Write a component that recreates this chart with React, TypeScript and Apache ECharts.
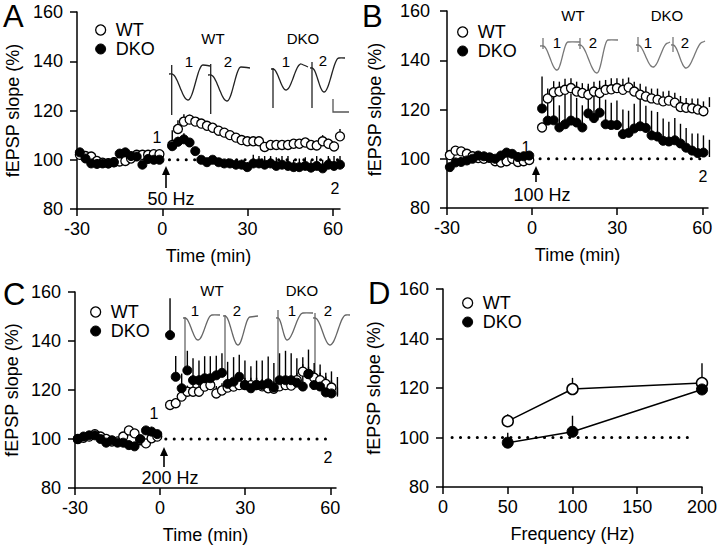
import React, { useEffect, useRef } from "react";
import * as echarts from "echarts";

const FONT = "'Liberation Sans', Arial, Helvetica, sans-serif";

// ---------- data ----------
const BASE_T = [-29, -27, -25, -23, -21, -19, -17, -15, -13, -11, -9, -7, -5, -3, -1];
const POST_T = [3.5, 5.5, 7.6, 9.6, 11.6, 13.7, 15.7, 17.7, 19.8, 21.8, 23.8, 25.9, 27.9, 29.9, 32.0, 34.0, 36.0, 38.1, 40.1, 42.1, 44.2, 46.2, 48.2, 50.3, 52.3, 54.3, 56.4, 58.4, 60.4, 62.5];
const TIME = [...BASE_T, ...POST_T];

// Panel A: 50 Hz
const A_WT = [102, 101.5, 101.3, 99.5, 98.8, 98.6, 99, 99.3, 99.5, 100.5, 102, 102, 102, 102.3, 102.3,
  106, 112.5, 115.5, 116.3, 115.5, 114.7, 113.8, 113, 111.8, 111, 110, 109, 108, 107.5, 107.5, 107.5, 105.2, 106, 106, 106, 106, 106.5, 106.5, 107, 106, 105.8, 107.5, 106.5, 105.4, 109.5];
const A_WT_ERR = [1, 1, 1, 1, 1, 1, 1, 1, 1, 1, 1, 1, 1, 1, 1,
  6, 3.5, 3, 2, 1.5, 1.5, 1.5, 1.5, 1.5, 1.5, 1.5, 1.5, 1.5, 1.5, 1.5, 1.5, 1.5, 1.5, 1.5, 1.5, 1.5, 1.5, 1.5, 1.5, 1.5, 2, 2.5, 2, 2, 3];
const A_DKO = [103, 100.5, 98.5, 98.3, 98.5, 98.5, 99, 102.5, 103, 101.5, 101.3, 98, 100.3, 100, 100,
  105.5, 107.3, 108.3, 107, 103.5, 100, 99, 100, 99, 98.5, 98.5, 98, 98, 97, 98.5, 98.5, 98, 98.5, 97.5, 98, 97.5, 97, 97, 97.5, 96.8, 97.5, 96.5, 98, 97.5, 98];
const A_DKO_ERR = [1, 1, 1, 1, 1, 1, 1, 1, 1, 1, 1, 1, 1, 1, 1,
  1.5, 2, 2.5, 1.5, 1.5, 1.5, 1.5, 1.5, 1.5, 1.5, 1.5, 2, 2, 2, 3.5, 3, 3.5, 3, 3.5, 3.5, 4, 3, 3.5, 3.5, 3, 4, 3.5, 3.5, 4, 3.5];

// Panel B: 100 Hz
const B_WT = [101.5, 103.3, 103, 102, 101, 100.3, 100, 100.5, 99, 98.5, 99, 100, 98.7, 99, 99.5,
  112.7, 124.5, 127, 127.3, 128, 128.7, 127.3, 126.7, 126, 127.3, 126.7, 128, 128.2, 128.7, 128, 129, 127.3, 126, 125.3, 124.5, 124, 123.3, 123.6, 122.8, 121, 120.7, 120.5, 120, 119.3, 121];
const B_WT_ERR = [1, 1, 1, 1, 1, 1, 1, 1, 1, 1, 1, 1, 1, 1, 1,
  2, 4, 4.5, 4, 4.5, 4, 4, 4, 4.5, 4, 5, 4, 4.5, 4, 4.5, 4, 4, 4.5, 4, 4, 4.5, 4, 4, 4, 4.5, 4, 4, 4.5, 4, 4];
const B_DKO = [96.6, 98.5, 98.7, 99.3, 100, 101.3, 101, 100.3, 100, 101.3, 102.5, 102, 100.7, 101, 101.3,
  120.4, 115.5, 115.6, 112.7, 114, 115.5, 114.7, 112.7, 118.4, 116.5, 118.7, 114, 113.7, 113.7, 110, 110.5, 112.3, 113.2, 112.5, 109.5, 109, 107.3, 107, 107.5, 106.2, 104.5, 103.3, 102.3, 102.5, 100.7];
const B_DKO_ERR = [1, 1, 1, 1, 1, 1, 1, 1, 1, 1, 1, 1, 1, 1, 1,
  13, 10, 11, 9, 12, 11, 10, 9, 11, 12, 11, 10, 9, 10, 10, 9, 10, 11, 9, 10, 10, 9, 8, 9, 8, 8, 7, 8, 7, 7];

// Panel C: 200 Hz
const C_WT = [100, 100.5, 101, 102, 101, 100, 99, 99, 101, 103.5, 102.3, 99.5, 98.2, 100.3, 101,
  113.9, 114.6, 117.3, 119.3, 119.3, 119.3, 121.4, 122, 118.6, 119.8, 121, 121.4, 122, 122, 122, 122, 121.5, 120.7, 120.5, 121.5, 122, 121.8, 124, 127.5, 126.5, 125, 124, 122.5, 121, 118];
const C_WT_ERR = [1, 1, 1, 1, 1, 1, 1, 1, 1, 1, 1, 1, 1, 1, 1,
  2, 2, 2.5, 2.5, 3, 3, 3, 3, 3, 3, 3, 3, 3, 3, 3, 3, 3, 3, 3, 3, 3, 3, 3, 3, 3, 3, 3, 3, 3, 3];
const C_DKO = [100, 101, 101.5, 101.5, 100, 98.5, 99.5, 98.5, 98.5, 97.5, 97, 100, 103.5, 103, 102,
  142.4, 125.4, 120.7, 128, 124, 124, 124.8, 124.8, 126, 127, 122.5, 123.4, 125.4, 122, 120.7, 122, 122, 122.7, 121, 124, 124, 124, 123, 121.4, 126.5, 122, 121.4, 119, 118.6, 117.3];
const C_DKO_ERR = [1, 1, 1, 1, 1, 1, 1, 1, 1, 1, 1, 1, 1.5, 2, 1,
  15, 8.5, 6, 8, 9, 8, 9, 9, 8, 8, 9, 10, 9, 10, 9, 10, 10, 11, 10, 11, 12, 11, 10, 12, 10, 9, 9, 8, 9, 8];

// Panel D: summary
const FREQ = [50, 100, 200];
const D_WT = [106.6, 119.6, 122];
const D_WT_ERR = [2.8, 4.5, 8];
const D_DKO = [97.9, 102.3, 119.4];
const D_DKO_ERR = [4, 6.5, 1];

// dotted 100 % reference line extents (x from, x to)
const REF_A = [2.5, 62];
const REF_B = [2.8, 60.5];
const REF_C = [2, 59.5];
const REF_D = [7, 193];
const REF_LEVEL = 100;

const TIME_TICK = 30;
const FREQ_TICK = 50;
const Y_TICK = 20;

// ---------- helpers ----------
const pairs = (xs: number[], ys: number[]) => xs.map((x, i) => [x, ys[i]]);
const triples = (xs: number[], ys: number[], es: number[]) => xs.map((x, i) => [x, ys[i], es[i]]);

const WT_STYLE = { color: "#fff", borderColor: "#000", borderWidth: 1.3, opacity: 1 };
const DKO_STYLE = { color: "#000", borderColor: "#000", borderWidth: 1, opacity: 1 };

function errSeries(idx: number, data: number[][]) {
  return {
    type: "custom",
    name: "err" + idx,
    xAxisIndex: idx,
    yAxisIndex: idx,
    z: 2,
    silent: true,
    data,
    encode: { x: 0, y: 1 },
    renderItem: (_p: any, api: any) => {
      const x = api.value(0), y = api.value(1), e = api.value(2);
      const p0 = api.coord([x, y]);
      const p1 = api.coord([x, y + e]);
      return {
        type: "line",
        shape: { x1: p0[0], y1: p0[1], x2: p1[0], y2: p1[1] },
        style: { stroke: "#000", lineWidth: 1.4 },
      };
    },
  };
}

function refSeries(idx: number, ext: number[]) {
  return {
    type: "line",
    name: "ref" + idx,
    xAxisIndex: idx,
    yAxisIndex: idx,
    z: 1,
    silent: true,
    symbol: "none",
    data: [[ext[0], REF_LEVEL], [ext[1], REF_LEVEL]],
    lineStyle: { color: "#000", width: 3, type: [0.1, 8.3], cap: "round" },
  };
}

function scatter(idx: number, name: string, ys: number[]) {
  return {
    type: "scatter",
    name,
    xAxisIndex: idx,
    yAxisIndex: idx,
    z: name === "WT" ? 3 : 4,
    symbol: "circle",
    symbolSize: 9,
    data: pairs(TIME, ys),
    itemStyle: name === "WT" ? WT_STYLE : DKO_STYLE,
  };
}

const axisBase = {
  axisLine: { show: true, onZero: false, lineStyle: { color: "#000", width: 1.5 } },
  axisTick: { show: true, length: 7, lineStyle: { color: "#000", width: 1.5 } },
  splitLine: { show: false },
  nameLocation: "middle",
  nameTextStyle: { color: "#000", fontSize: 18, fontFamily: FONT },
};

function xAxis(idx: number, min: number, max: number, interval: number, name: string) {
  return {
    ...axisBase,
    gridIndex: idx,
    type: "value",
    min,
    max,
    interval,
    name,
    nameGap: 38,
    axisLabel: { color: "#000", fontSize: 18, fontFamily: FONT, margin: 11 },
  };
}

function yAxis(idx: number, nameGap: number, margin: number) {
  return {
    ...axisBase,
    gridIndex: idx,
    type: "value",
    min: 80,
    max: 160,
    interval: Y_TICK,
    name: "fEPSP slope (%)",
    nameGap,
    axisLabel: { color: "#000", fontSize: 18, fontFamily: FONT, margin },
  };
}

function legend(left: number, top: number) {
  return {
    left,
    top,
    orient: "vertical",
    padding: 0,
    itemGap: 1,
    itemWidth: 10,
    itemHeight: 10,
    icon: "circle",
    selectedMode: false,
    data: [{ name: "WT", itemStyle: WT_STYLE }, { name: "DKO", itemStyle: DKO_STYLE }],
    textStyle: { color: "#000", fontSize: 18, fontFamily: FONT, lineHeight: 18, padding: [0, 0, 0, 5] },
  };
}

// inset trace geometry (pixels)
const TRACES = [
  { x0: 169, y0: 74, ax: 171.7, aT: 65, aB: 115, mx: 188, my: 100, px: 203, py: 65, ex: 210, ey: 66, c: "#222" },
  { x0: 208, y0: 75, ax: 210.7, aT: 64, aB: 114, mx: 227, my: 101, px: 241, py: 67, ex: 250, ey: 68, c: "#222" },
  { x0: 271, y0: 69, ax: 273, aT: 68, aB: 108, mx: 286, my: 90, px: 301, py: 64, ex: 308, ey: 67, c: "#222" },
  { x0: 310, y0: 68, ax: 312, aT: 62, aB: 108, mx: 324, my: 92, px: 339, py: 58, ex: 345, ey: 58, c: "#222" },
  { x0: 540, y0: 46, ax: 543, aT: 38, aB: 49, mx: 557, my: 70, px: 568, py: 42, ex: 580, ey: 42, c: "#777" },
  { x0: 578, y0: 45, ax: 580, aT: 38, aB: 49, mx: 597, my: 73, px: 608, py: 40, ex: 618, ey: 40, c: "#777" },
  { x0: 636, y0: 45, ax: 638, aT: 37, aB: 52, mx: 653, my: 67, px: 668, py: 43, ex: 670, ey: 42, c: "#777" },
  { x0: 671, y0: 45, ax: 673, aT: 37, aB: 52, mx: 686, my: 68, px: 703, py: 42, ex: 705, ey: 41, c: "#777" },
  { x0: 183, y0: 318, ax: 185, aT: 317, aB: 370, mx: 198, my: 340, px: 212, py: 315, ex: 220, ey: 315, c: "#666" },
  { x0: 223, y0: 316, ax: 225, aT: 315, aB: 370, mx: 238, my: 345, px: 250, py: 317, ex: 258, ey: 316, c: "#666" },
  { x0: 276, y0: 318, ax: 278, aT: 310, aB: 390, mx: 287, my: 340, px: 303, py: 313, ex: 313, ey: 313, c: "#666" },
  { x0: 313, y0: 318, ax: 315, aT: 313, aB: 387, mx: 330, my: 345, px: 346, py: 315, ex: 350, ey: 315, c: "#666" },
];

function traceEls(t: any) {
  const pts: number[][] = [[t.x0, t.y0], [t.ax, t.y0]];
  const n = 12;
  for (let i = 1; i <= n; i++) {
    const s = i / n;
    pts.push([t.ax + (t.mx - t.ax) * s, t.y0 + (t.my - t.y0) * (1 - Math.cos(Math.PI * s)) / 2]);
  }
  for (let i = 1; i <= n; i++) {
    const s = i / n;
    pts.push([t.mx + (t.px - t.mx) * s, t.my + (t.py - t.my) * (1 - Math.cos(Math.PI * s)) / 2]);
  }
  pts.push([t.ex, t.ey]);
  return [
    { type: "polyline", silent: true, shape: { points: pts, smooth: 0.2 }, style: { stroke: t.c, fill: null, lineWidth: 1.3 } },
    { type: "line", silent: true, shape: { x1: t.ax, y1: t.aT, x2: t.ax, y2: t.aB }, style: { stroke: t.c, lineWidth: 1.3 } },
  ];
}

function txt(x: number, y: number, text: string, size: number) {
  return {
    type: "text",
    silent: true,
    x,
    y,
    style: {
      text,
      fontSize: size,
      fontFamily: FONT,
      fill: "#000",
      align: "center",
      verticalAlign: "middle",
      textAlign: "center",
      textVerticalAlign: "middle",
    },
  };
}

function letter(x: number, y: number, text: string) {
  return {
    type: "text",
    silent: true,
    x,
    y,
    style: {
      text,
      fontSize: 31,
      fontFamily: FONT,
      fill: "#000",
      align: "left",
      verticalAlign: "top",
      textAlign: "left",
      textVerticalAlign: "top",
    },
  };
}

function arrow(x: number, yBot: number, yTip: number) {
  return [
    { type: "line", silent: true, shape: { x1: x, y1: yBot, x2: x, y2: yTip + 6 }, style: { stroke: "#000", lineWidth: 1.6 } },
    { type: "polygon", silent: true, shape: { points: [[x - 4, yTip + 9], [x + 4, yTip + 9], [x, yTip]] }, style: { fill: "#000" } },
  ];
}

function buildOption() {
  const graphic: any[] = [
    letter(3, 1, "A"),
    letter(362, 1, "B"),
    letter(3, 279, "C"),
    letter(368, 278, "D"),
    // A annotations
    txt(213, 38, "WT", 15), txt(303, 38, "DKO", 15),
    txt(189, 61, "1", 15), txt(228, 61, "2", 15), txt(286, 61, "1", 15), txt(323, 60, "2", 15),
    txt(157, 137, "1", 16), txt(335, 188, "2", 16), txt(171, 199, "50 Hz", 18),
    // B annotations
    txt(573, 15, "WT", 15), txt(667, 15, "DKO", 15),
    txt(557, 42, "1", 15), txt(593, 42, "2", 15), txt(648, 42, "1", 15), txt(685, 42, "2", 15),
    txt(526, 147, "1", 16), txt(703, 176, "2", 16), txt(542, 195, "100 Hz", 18),
    // C annotations
    txt(212, 290, "WT", 15), txt(302, 290, "DKO", 15),
    txt(195, 310, "1", 15), txt(237, 310, "2", 15), txt(292, 310, "1", 15), txt(328, 310, "2", 15),
    txt(154, 413, "1", 16), txt(328, 457, "2", 16), txt(170, 478, "200 Hz", 18),
    ...arrow(166, 188, 166),
    ...arrow(536, 182, 166),
    ...arrow(164, 467, 447),
    { type: "polyline", silent: true, shape: { points: [[333, 99], [333, 112], [349, 112]] }, style: { stroke: "#555", fill: null, lineWidth: 1.3 } },
  ];
  TRACES.forEach((t) => graphic.push(...traceEls(t)));

  const series: any[] = [
    // A
    refSeries(0, REF_A),
    errSeries(0, triples(TIME, A_WT, A_WT_ERR)),
    errSeries(0, triples(TIME, A_DKO, A_DKO_ERR)),
    scatter(0, "WT", A_WT),
    scatter(0, "DKO", A_DKO),
    // B
    refSeries(1, REF_B),
    errSeries(1, triples(TIME, B_WT, B_WT_ERR)),
    errSeries(1, triples(TIME, B_DKO, B_DKO_ERR)),
    scatter(1, "WT", B_WT),
    scatter(1, "DKO", B_DKO),
    // C
    refSeries(2, REF_C),
    errSeries(2, triples(TIME, C_WT, C_WT_ERR)),
    errSeries(2, triples(TIME, C_DKO, C_DKO_ERR)),
    scatter(2, "WT", C_WT),
    scatter(2, "DKO", C_DKO),
    // D
    refSeries(3, REF_D),
    errSeries(3, triples(FREQ, D_WT, D_WT_ERR)),
    errSeries(3, triples(FREQ, D_DKO, D_DKO_ERR)),
    {
      type: "line", name: "WT", xAxisIndex: 3, yAxisIndex: 3, z: 3,
      data: pairs(FREQ, D_WT), symbol: "circle", symbolSize: 11, showSymbol: true,
      lineStyle: { color: "#000", width: 1.5 }, itemStyle: { ...WT_STYLE, borderWidth: 1.5 },
    },
    {
      type: "line", name: "DKO", xAxisIndex: 3, yAxisIndex: 3, z: 4,
      data: pairs(FREQ, D_DKO), symbol: "circle", symbolSize: 11, showSymbol: true,
      lineStyle: { color: "#000", width: 1.5 }, itemStyle: DKO_STYLE,
    },
  ];

  return {
    animation: false,
    backgroundColor: "#fff",
    textStyle: { fontFamily: FONT, color: "#000" },
    grid: [
      { left: 77, top: 12, width: 263, height: 197 },
      { left: 447, top: 11, width: 261, height: 197 },
      { left: 75, top: 292, width: 261, height: 196 },
      { left: 443, top: 289, width: 264, height: 198 },
    ],
    xAxis: [
      xAxis(0, -30, 62.5, TIME_TICK, "Time (min)"),
      xAxis(1, -30, 62, TIME_TICK, "Time (min)"),
      xAxis(2, -30, 62, TIME_TICK, "Time (min)"),
      xAxis(3, 0, 200, FREQ_TICK, "Frequency (Hz)"),
    ],
    yAxis: [yAxis(0, 55, 14), yAxis(1, 63, 17), yAxis(2, 54, 14), yAxis(3, 60, 14)],
    legend: [legend(95, 21), legend(457, 23), legend(90, 303), legend(462, 294)],
    graphic,
    series,
  };
}

export default function App() {
  const ref = useRef<HTMLDivElement>(null);
  useEffect(() => {
    document.body.style.margin = "0";
    const chart = echarts.init(ref.current!, null, { renderer: "svg" });
    chart.setOption(buildOption() as any);
    return () => chart.dispose();
  }, []);
  return <div ref={ref} style={{ width: 720, height: 548, background: "#fff" }} />;
}
